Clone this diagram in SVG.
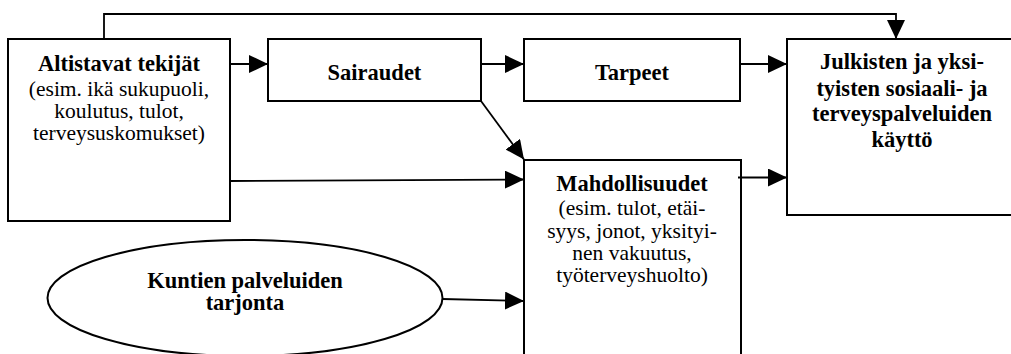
<svg xmlns="http://www.w3.org/2000/svg" width="1011" height="354" viewBox="0 0 1011 354">
<style>
.box{fill:#fff;stroke:#000;stroke-width:2}
.c{fill:none;stroke:#000;stroke-width:1.8}
text{fill:#000;text-anchor:middle}
.b{font-weight:bold;font-size:22.5px}
.r{font-size:21.5px}
</style>
<defs>
<marker id="ah" markerUnits="userSpaceOnUse" markerWidth="19" markerHeight="18" refX="19" refY="9" orient="auto">
<path d="M0,0 L19,9 L0,18 Z" fill="#000"/>
</marker>
</defs>
<rect width="1011" height="354" fill="#fff"/>
<g font-family="'Liberation Serif', Tinos, 'DejaVu Serif', serif">
<g id="altistavat">
<rect class="box" x="8" y="39" width="222" height="182"/>
<text class="b" x="119" y="71">Altistavat tekijät</text>
<text class="r" x="119" y="95.5">(esim. ikä sukupuoli,</text>
<text class="r" x="119" y="117.5">koulutus, tulot,</text>
<text class="r" x="119" y="139.5">terveysuskomukset)</text>
</g>
<g id="sairaudet">
<rect class="box" x="268" y="39" width="213" height="62"/>
<text class="b" x="374.5" y="80">Sairaudet</text>
</g>
<g id="tarpeet">
<rect class="box" x="524" y="39" width="216" height="62"/>
<text class="b" x="632" y="80">Tarpeet</text>
</g>
<g id="julkisten">
<rect class="box" x="787" y="39" width="240" height="176"/>
<text class="b" x="902" y="69">Julkisten ja yksi-</text>
<text class="b" x="902" y="95.5">tyisten sosiaali- ja</text>
<text class="b" x="902" y="121">terveyspalveluiden</text>
<text class="b" x="902" y="147">käyttö</text>
</g>
<g id="mahdollisuudet">
<rect class="box" x="524" y="160" width="217" height="210"/>
<text class="b" x="632" y="191">Mahdollisuudet</text>
<text class="r" x="632" y="215">(esim. tulot,  etäi-</text>
<text class="r" x="632" y="238">syys, jonot, yksityi-</text>
<text class="r" x="632" y="260">nen vakuutus,</text>
<text class="r" x="632" y="282">työterveyshuolto)</text>
</g>
<g id="kuntien">
<ellipse class="box" cx="245" cy="298" rx="197.5" ry="58"/>
<text class="b" x="245" y="287.5">Kuntien palveluiden</text>
<text class="b" x="245" y="310">tarjonta</text>
</g>
</g>
<g id="connectors">
<path class="c" d="M104,39 V14 H896 V39" marker-end="url(#ah)"/>
<line class="c" x1="230" y1="64" x2="268" y2="64" marker-end="url(#ah)"/>
<line class="c" x1="481" y1="64" x2="524" y2="64" marker-end="url(#ah)"/>
<line class="c" x1="740" y1="64" x2="787" y2="64" marker-end="url(#ah)"/>
<line class="c" x1="481" y1="101" x2="524" y2="159.5" marker-end="url(#ah)"/>
<line class="c" x1="230" y1="181" x2="524" y2="179.5" marker-end="url(#ah)"/>
<line class="c" x1="738" y1="177.5" x2="787" y2="177.5" marker-end="url(#ah)"/>
<line class="c" x1="442.5" y1="299" x2="524" y2="301" marker-end="url(#ah)"/>
</g>
</svg>
